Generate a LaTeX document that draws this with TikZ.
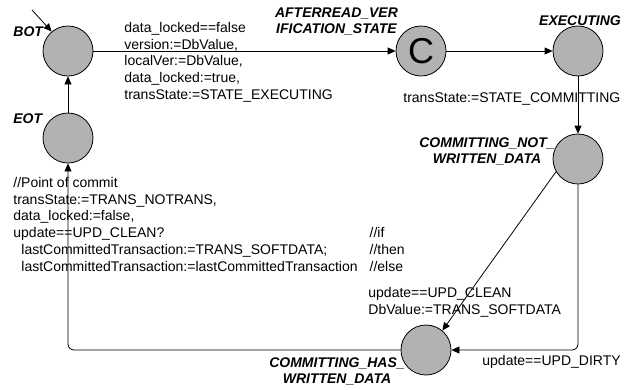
\documentclass[tikz,border=0pt]{standalone}
\usepackage{fontspec}
\setmainfont{Liberation Sans}
\usetikzlibrary{arrows.meta}

\begin{document}
\begin{tikzpicture}[x=1pt,y=-1pt,line width=0.8pt,>={Triangle[length=8pt,width=7pt]}]
    \tikzstyle{location}=[circle,draw=black,fill=black!30,minimum size=50pt,inner sep=0pt]
    \tikzstyle{locname}=[font=\fontsize{14}{16}\selectfont\bfseries\itshape,inner sep=0pt,align=center]
    \tikzstyle{guard}=[font=\fontsize{14}{16.8}\selectfont,inner sep=0pt,align=left]
    \useasboundingbox (0,0) rectangle (634,389);

    % locations
    \foreach \name/\x/\y in {BOT/68/51, EOT/68/138, EXECUTING/578/51, NOTWRITTEN/578/159, HASWRITTEN/426/350}
            \node[location] (\name) at (\x,\y) {};
    \node[location,font=\fontsize{36}{36}\selectfont] (AFTERREAD) at (421,51) {C};

    % location names
    \node[locname,anchor=base west] (BOT-name) at (13,36) {BOT};
    \node[locname,anchor=base west] (EOT-name) at (13,123) {EOT};
    \node[locname,anchor=base] (EXECUTING-name) at (580,25) {EXECUTING};
    \node[locname,anchor=north] (AFTERREAD-name) at (336.5,7) {AFTERREAD\_VER\\IFICATION\_STATE};
    \node[locname,anchor=north] (NOTWRITTEN-name) at (487,137) {COMMITTING\_NOT\_\\WRITTEN\_DATA};
    \node[locname,anchor=north] (HASWRITTEN-name) at (337,357) {COMMITTING\_HAS\_\\WRITTEN\_DATA};

    % transitions
    \coordinate (init) at (32,10);
    \draw[->] (init) -- (BOT.130);
    \draw[->] (BOT) -- (AFTERREAD);
    \draw[->] (AFTERREAD) -- (EXECUTING);
    \draw[->] (EXECUTING) -- (NOTWRITTEN);
    \draw[->] (NOTWRITTEN.210) -- (HASWRITTEN.50);
    \draw[->,rounded corners=6pt] (NOTWRITTEN) |- (HASWRITTEN);
    \draw[->,rounded corners=6pt] (HASWRITTEN) -| (EOT);
    \draw[->] (EOT) -- (BOT);

    % guards and updates
    \node[guard,anchor=north west] (lock-lbl) at (124,21.8) {data\_locked==false\\version:=DbValue,\\localVer:=DbValue,\\data\_locked:=true,\\transState:=STATE\_EXECUTING};
    \node[guard,anchor=base west] (commit-lbl) at (403,102) {transState:=STATE\_COMMITTING};
    \node[guard,anchor=north west] (clean-lbl) at (368,286.8) {update==UPD\_CLEAN\\DbValue:=TRANS\_SOFTDATA};
    \node[guard,anchor=base west] (dirty-lbl) at (482,365) {update==UPD\_DIRTY};
    \node[guard,anchor=north west] (eot-lbl) at (13,175.2) {\begin{tabular}{@{}l@{\hspace{12pt}}l@{}}
        //Point of commit & \\
        transState:=TRANS\_NOTRANS, & \\
        data\_locked:=false, & \\
        update==UPD\_CLEAN? & //if \\
        \hspace{8pt}lastCommittedTransaction:=TRANS\_SOFTDATA; & //then \\
        \hspace{8pt}lastCommittedTransaction:=lastCommittedTransaction & //else
        \end{tabular}};
\end{tikzpicture}
\end{document}
